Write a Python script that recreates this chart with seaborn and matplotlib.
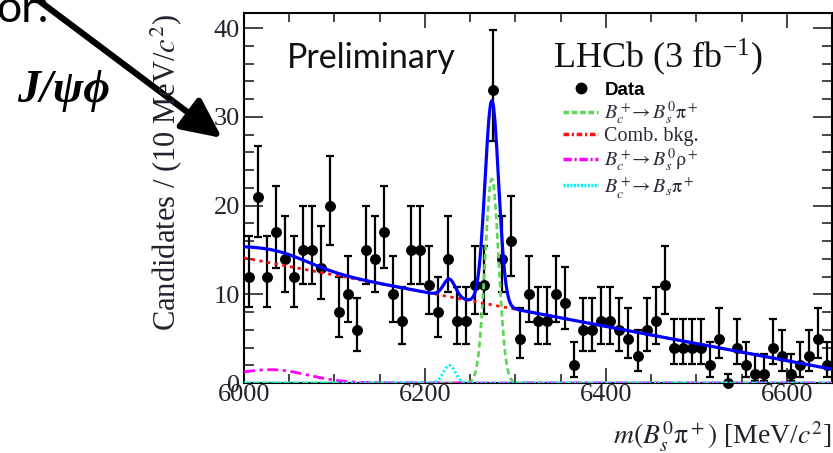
import numpy as np
import pandas as pd
import matplotlib
matplotlib.use("Agg")
import matplotlib.pyplot as plt
import seaborn as sns
from matplotlib.ticker import MultipleLocator, FixedLocator
from matplotlib.lines import Line2D

# ---------------- data ----------------
bin_width = 10
bin_low_edges = list(range(6000, 6650, bin_width))
counts = [12, 21, 12, 17, 14, 12, 15, 15, 13, 20,
          8, 10, 6, 15, 14, 17, 10, 7, 15, 15,
          11, 8, 14, 7, 7, 11, 11, 33, 14, 16,
          5, 10, 7, 7, 10, 9, 2, 6, 6, 7,
          7, 6, 5, 3, 6, 7, 11, 4, 4, 4,
          4, 2, 5, 0, 4, 2, 1, 1, 4, 3,
          1, 2, 3, 5, 2]

# fit-model parameters
comb_at_6000 = 14.1
comb_slope = -0.0193          # candidates per MeV
sig_mean, sig_sigma, sig_peak = 6274.0, 7.5, 23.0
rho_mean, rho_sigma_left, rho_sigma_right, rho_peak = 6030.0, 50.0, 40.0, 1.5
bspi_mean, bspi_sigma, bspi_peak = 6227.0, 6.5, 2.0

x_ticks = [6000, 6200, 6400, 6600]
y_ticks = [0, 10, 20, 30, 40]

legend_labels = ["Data",
                 r"$B_c^+\!\!\rightarrow B_s^0\mathrm{\pi}^+$",
                 "Comb. bkg.",
                 r"$B_c^+\!\!\rightarrow B_s^0\mathrm{\rho}^+$",
                 r"$B_c^+\!\!\rightarrow B_s\mathrm{\pi}^+$"]

# ---------------- derived ----------------
centers = np.array(bin_low_edges) + bin_width / 2
n = np.array(counts, dtype=float)
nn = np.maximum(n, 1)
err_hi = 1.0 + np.sqrt(n + 0.75)
err_lo = n - n * (1 - 1 / (9 * nn) - 1 / (3 * np.sqrt(nn))) ** 3
err_hi[n == 0] = 1.0
err_lo[n == 0] = 0.0

m = np.linspace(6000, 6650, 1301)
comb = comb_at_6000 + comb_slope * (m - 6000)
sig = sig_peak * np.exp(-0.5 * ((m - sig_mean) / sig_sigma) ** 2)
rho_s = np.where(m < rho_mean, rho_sigma_left, rho_sigma_right)
rho = rho_peak * np.exp(-0.5 * ((m - rho_mean) / rho_s) ** 2)
bspi = bspi_peak * np.exp(-0.5 * ((m - bspi_mean) / bspi_sigma) ** 2)
total = comb + sig + rho + bspi

# ---------------- style ----------------
sns.set_theme(style="ticks")
plt.rcParams["font.family"] = ["Liberation Serif", "DejaVu Serif"]
plt.rcParams["mathtext.fontset"] = "stix"
plt.rcParams["axes.linewidth"] = 1.5

W, H = 833, 453
fig = plt.figure(figsize=(W / 100, H / 100), dpi=100)
fig.patch.set_facecolor("white")
ax = fig.add_axes([244 / W, 1 - 383 / H, 588 / W, 370 / H])
ax.set_facecolor("white")

c_green = "#5fd65a"
c_red = "#ff1010"
c_mag = "#ff00ff"
c_cyan = "#00f0ff"
c_blue = "#0000ff"

# data
ax.errorbar(centers, n, yerr=[err_lo, err_hi], fmt="none", ecolor="black",
            elinewidth=1.6, capsize=2.7, capthick=1.6, clip_on=False, zorder=3)
sns.scatterplot(x=centers, y=n, ax=ax, color="black", marker="o", s=62,
                edgecolor="black", linewidth=0, clip_on=False, zorder=4, legend=False)

# curves
lw = 2.0
sns.lineplot(x=m, y=sig, ax=ax, color=c_green, lw=lw, linestyle=(0, (2.2, 1.3)), zorder=5)
sns.lineplot(x=m, y=comb, ax=ax, color=c_red, lw=lw, linestyle=(0, (1.2, 1.6)), zorder=5)
sns.lineplot(x=m, y=rho, ax=ax, color=c_mag, lw=lw, linestyle=(0, (4, 1.6, 1.2, 1.6)), zorder=5)
sns.lineplot(x=m, y=bspi, ax=ax, color=c_cyan, lw=lw, linestyle=(0, (0.8, 0.8)), zorder=5)
sns.lineplot(x=m, y=total, ax=ax, color=c_blue, lw=2.3, zorder=6)

ax.set_xlim(6000, 6650)
ax.set_ylim(0, 41.7)
ax.xaxis.set_major_locator(FixedLocator(x_ticks))
ax.xaxis.set_minor_locator(MultipleLocator(50))
ax.yaxis.set_major_locator(FixedLocator(y_ticks))
ax.yaxis.set_minor_locator(MultipleLocator(2))
ax.tick_params(which="both", direction="in", top=True, right=True, width=1.2,
               labelsize=19, labelcolor="#22222e")
ax.tick_params(axis="x", which="major", length=10.5, pad=1)
ax.tick_params(axis="x", which="minor", length=6.5)
ax.tick_params(axis="y", which="major", length=13.5, pad=3)
ax.tick_params(axis="y", which="minor", length=7)
for s in ax.spines.values():
    s.set_linewidth(1.5)
    s.set_color("black")
ax.set_xlabel("")
ax.set_ylabel("")

# axis titles
fig.text(166 / W, 1 - 172 / H, r"Candidates / (10 MeV/$c^2$)", rotation=90,
         ha="center", va="center", fontsize=22, color="#22222e")
fig.text(832 / W, 1 - 445 / H, r"$m(B_s^0\mathrm{\pi}^+)$ [MeV/$c^2$]",
         ha="right", va="baseline", fontsize=20, color="#22222e")

# in-plot texts
ax.text((287 - 244) / 588, (383 - 68) / 370, "Preliminary", transform=ax.transAxes,
        fontsize=24.5, family=["Lato", "DejaVu Sans"], ha="left", va="baseline", color="#111111")
ax.text((553 - 244) / 588, (383 - 68) / 370, r"LHCb (3 fb$^{\mathregular{-1}}$)",
        transform=ax.transAxes, fontsize=26, ha="left", va="baseline", color="#111111")

handles = [Line2D([], [], marker="o", color="black", ls="none", ms=7.5),
           Line2D([], [], color=c_green, lw=2.5, linestyle=(0, (1.6, 0.8))),
           Line2D([], [], color=c_red, lw=2.5, linestyle=(0, (1.6, 0.8, 0.6, 0.8))),
           Line2D([], [], color=c_mag, lw=2.5, linestyle=(0, (2.4, 0.8, 0.6, 0.8))),
           Line2D([], [], color=c_cyan, lw=2.5, linestyle=(0, (0.6, 0.4)))]
leg = ax.legend(handles, legend_labels, loc="upper left",
                bbox_to_anchor=((563 - 244) / 588, (383 - 81) / 370),
                frameon=False, borderpad=0, borderaxespad=0, handlelength=1.75,
                handletextpad=0.3, labelspacing=0.02, fontsize=14.5)
for t in leg.get_texts():
    t.set_color("#2a2a3a")
leg.get_texts()[0].set_fontfamily(["Liberation Sans", "DejaVu Sans"])
leg.get_texts()[0].set_fontweight("bold")
leg.get_texts()[0].set_fontsize(13.5)
leg.get_texts()[0].set_color("black")

# slide annotations
fig.text(49 / W, 1 - 22 / H, "or:", ha="right", va="baseline", fontsize=32,
         family=["Lato", "DejaVu Sans"], color="black")
fig.text(17 / W, 1 - 102 / H, "J/ψϕ", ha="left", va="baseline", fontsize=33,
         family=["Liberation Serif", "DejaVu Serif"], fontweight="bold", fontstyle="italic",
         color="black")
ax.annotate("", xy=(222, H - 138), xycoords="figure pixels",
            xytext=(30, H + 6), textcoords="figure pixels",
            arrowprops=dict(arrowstyle="-|>,head_length=1.05,head_width=0.5",
                            lw=4.5, color="black", mutation_scale=23,
                            shrinkA=0, shrinkB=0),
            annotation_clip=False)

fig.savefig("out.png", dpi=100, facecolor="white")
